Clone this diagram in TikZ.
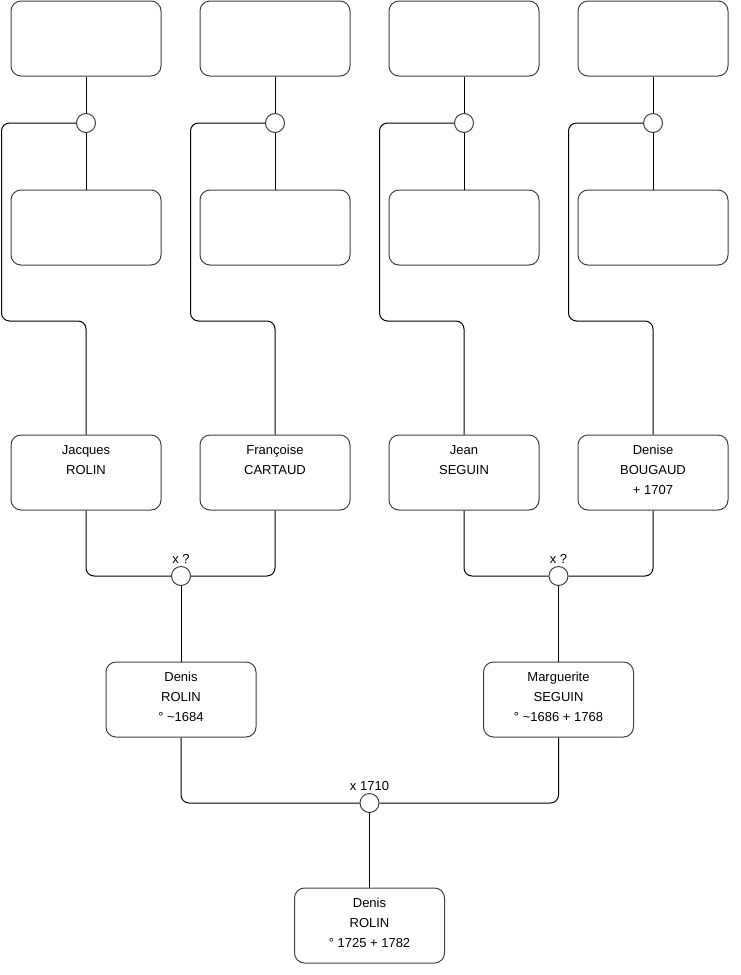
\documentclass[tikz,border=0pt]{standalone}
\usepackage{fontspec}
\setmainfont{Liberation Sans}
\usetikzlibrary{positioning}
\newcommand{\pers}[1]{\parbox[c][75pt][t]{150pt}{\centering\fontsize{13}{20}\selectfont\vspace*{10.5pt}#1}}
\tikzset{
  prs/.style={draw=black!75, rounded corners=10pt, minimum width=150pt,
              minimum height=75pt, inner sep=0pt, line width=1pt},
  mrg/.style={draw=black!75, circle, fill=white, minimum size=19pt,
              inner sep=0pt, line width=1pt},
  lnk/.style={draw, line width=1pt, rounded corners=8pt},
  every label/.style={font=\fontsize{13}{15}\selectfont, inner sep=2.5pt},
}

\begin{document}
\begin{tikzpicture}[x=1pt, y=-1pt]
    \useasboundingbox (0,0) rectangle (740,975);

    % great-grandparents (unknown)
    \node[prs] (ga1) at (86,  38.5) {\pers{}};
    \node[prs] (ga2) at (275, 38.5) {\pers{}};
    \node[prs] (ga3) at (464, 38.5) {\pers{}};
    \node[prs] (ga4) at (653, 38.5) {\pers{}};
    \node[mrg] (ma1) at (86,  123) {};
    \node[mrg] (ma2) at (275, 123) {};
    \node[mrg] (ma3) at (464, 123) {};
    \node[mrg] (ma4) at (653, 123) {};
    \node[prs] (gb1) at (86,  227.5) {\pers{}};
    \node[prs] (gb2) at (275, 227.5) {\pers{}};
    \node[prs] (gb3) at (464, 227.5) {\pers{}};
    \node[prs] (gb4) at (653, 227.5) {\pers{}};

    % grandparents
    \node[prs] (jacq) at (86,  472.5) {\pers{Jacques\\ROLIN}};
    \node[prs] (fran) at (275, 472.5) {\pers{Françoise\\CARTAUD}};
    \node[prs] (jean) at (464, 472.5) {\pers{Jean\\SEGUIN}};
    \node[prs] (deni) at (653, 472.5) {\pers{Denise\\BOUGAUD\\+ 1707}};
    \node[mrg, label=above:x ?] (mb1) at (181,   576) {};
    \node[mrg, label=above:x ?] (mb2) at (558.5, 576) {};

    % parents
    \node[prs] (den1) at (181,   699.5) {\pers{Denis\\ROLIN\\° \textasciitilde 1684}};
    \node[prs] (marg) at (558.5, 699.5) {\pers{Marguerite\\SEGUIN\\° \textasciitilde 1686 + 1768}};
    \node[mrg, label=above:x 1710] (mc) at (369.5, 803) {};

    \node[prs] (den2) at (369.5, 925.5) {\pers{Denis\\ROLIN\\° 1725 + 1782}};

    \foreach \i in {1,...,4}{
      \draw[lnk] (ga\i.south) -- (ma\i.north);
      \draw[lnk] (ma\i.south) -- (gb\i.north);
    }
    \draw[lnk] (ma1.west) -| ++(-74.5,198) -| (jacq.north);
    \draw[lnk] (ma2.west) -| ++(-74.5,198) -| (fran.north);
    \draw[lnk] (ma3.west) -| ++(-74.5,198) -| (jean.north);
    \draw[lnk] (ma4.west) -| ++(-74.5,198) -| (deni.north);

    \draw[lnk] (jacq.south) |- (mb1.west);
    \draw[lnk] (fran.south) |- (mb1.east);
    \draw[lnk] (jean.south) |- (mb2.west);
    \draw[lnk] (deni.south) |- (mb2.east);
    \draw[lnk] (mb1.south) -- (den1.north);
    \draw[lnk] (mb2.south) -- (marg.north);

    \draw[lnk] (den1.south) |- (mc.west);
    \draw[lnk] (marg.south) |- (mc.east);
    \draw[lnk] (mc.south) -- (den2.north);
  \end{tikzpicture}
\end{document}
